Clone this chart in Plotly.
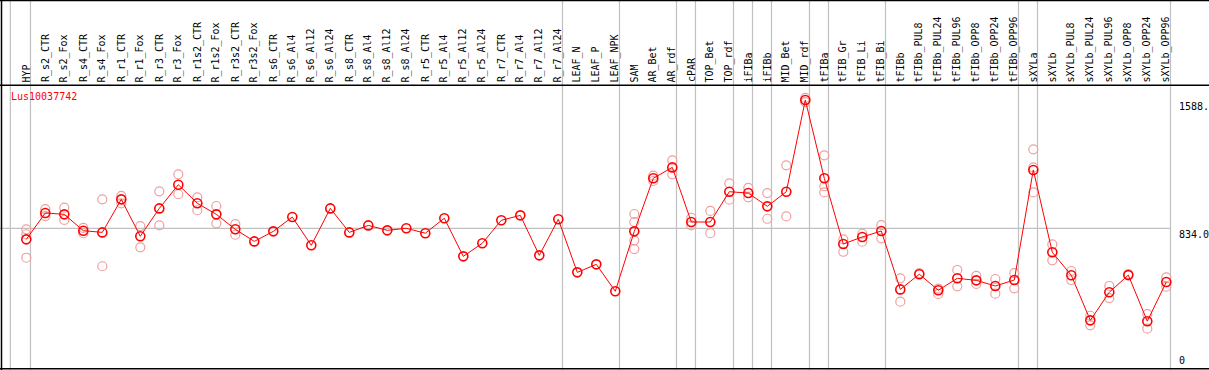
import plotly.graph_objects as go

title = "Lus10037742"

categories = [
    "HYP", "R_s2_CTR", "R_s2_Fox", "R_s4_CTR", "R_s4_Fox", "R_r1_CTR", "R_r1_Fox",
    "R_r3_CTR", "R_r3_Fox", "R_r1s2_CTR", "R_r1s2_Fox", "R_r3s2_CTR", "R_r3s2_Fox",
    "R_s6_CTR", "R_s6_Al4", "R_s6_Al12", "R_s6_Al24", "R_s8_CTR", "R_s8_Al4",
    "R_s8_Al12", "R_s8_Al24", "R_r5_CTR", "R_r5_Al4", "R_r5_Al12", "R_r5_Al24",
    "R_r7_CTR", "R_r7_Al4", "R_r7_Al12", "R_r7_Al24", "LEAF_N", "LEAF_P", "LEAF_NPK",
    "SAM", "AR_Bet", "AR_rdf", "cPAR", "TOP_Bet", "TOP_rdf", "iFIBa", "iFIBb",
    "MID_Bet", "MID_rdf", "tFIBa", "tFIB_Gr", "tFIB_Li", "tFIB_Bi", "tFIBb",
    "tFIBb_PUL8", "tFIBb_PUL24", "tFIBb_PUL96", "tFIBb_OPP8", "tFIBb_OPP24",
    "tFIBb_OPP96", "sXYLa", "sXYLb", "sXYLb_PUL8", "sXYLb_PUL24", "sXYLb_PUL96",
    "sXYLb_OPP8", "sXYLb_OPP24", "sXYLb_OPP96",
]

# number of consecutive categories in each group (separated by grey lines)
group_sizes = [1, 28, 3, 3, 1, 2, 1, 1, 2, 1, 3, 7, 1, 7]

means = [
    769, 924, 916, 820, 810, 1004, 787, 951, 1090, 981, 916, 828, 757,
    816, 900, 734, 951, 810, 851, 822, 834, 805, 893, 669, 746, 881, 910,
    675, 887, 575, 622, 464,
    816, 1128, 1192, 871, 871, 1049, 1041, 963, 1049, 1588, 1128, 742, 783, 818,
    475, 564, 470, 540, 528, 495, 530,
    1177, 693, 558, 293, 458, 559, 288, 518,
]

replicates = [
    [828, 799, 661], [947, 906], [955, 883], [836, 805], [1004, 611],
    [1024, 981], [847, 722], [1051, 851], [1151, 1034], [1016, 940],
    [965, 863], [859, 796], [], [], [], [], [], [], [], [], [], [], [], [], [],
    [], [], [], [], [], [], [],
    [918, 871, 763, 712], [1143, 1112], [1233, 1151], [896, 851], [936, 805],
    [1098, 1002], [1071, 1016], [1041, 890], [1204, 904], [1600, 1576],
    [1263, 1081, 1045], [769, 696], [802, 755], [853, 775],
    [540, 403], [570], [448, 480], [589, 493], [554, 507], [536, 450], [571, 481],
    [1298, 1192, 1045], [740, 646], [583, 530], [320, 264], [495, 424], [565],
    [330, 244], [546, 491],
]

axis_ticks = [0, 834.0, 1588.0]
axis_tick_text = ["0", "834.0", "1588."]

# ---- layout geometry (pixels) ----
W, H = 1209, 370
px_per_cat = 19.0
first_cat_px = 26.3
header_px = 85.3
y_zero_px = 370.2
y_px_per_unit = (y_zero_px - 100.0) / 1588.0

xmin = -first_cat_px / px_per_cat
xmax = xmin + W / px_per_cat
ymin = (y_zero_px - H) / y_px_per_unit
ymax = ymin + H / y_px_per_unit

def py(p):  # pixel y -> paper
    return 1 - p / H

def px(p):  # pixel x -> paper
    return p / W

red = "#ff0000"
pink = "#eea0a0"
grey = "#c0c0c0"
mono = "DejaVu Sans Mono"

idx = list(range(len(categories)))
rx, ry = [], []
for i, reps in enumerate(replicates):
    for v in reps:
        rx.append(i)
        ry.append(v)

fig = go.Figure()
fig.add_trace(go.Scatter(
    x=rx, y=ry, mode="markers",
    marker=dict(symbol="circle-open", size=9, color=pink, line=dict(width=1.2, color=pink)),
    hoverinfo="skip", showlegend=False,
))
fig.add_trace(go.Scatter(
    x=idx, y=means, mode="lines+markers",
    line=dict(color=red, width=1),
    marker=dict(symbol="circle-open", size=9, color=red, line=dict(width=1.6, color=red)),
    showlegend=False,
))

shapes = []
# group separators
boundaries = [-0.84]
pos = 0
for g in group_sizes:
    pos += g
    boundaries.append(pos - 1 + 0.22)
for b in boundaries:
    shapes.append(dict(type="line", xref="x", yref="paper", x0=b, x1=b, y0=0, y1=1,
                       line=dict(color=grey, width=1.2), layer="below"))
# horizontal reference line at middle tick
shapes.append(dict(type="line", xref="paper", yref="y", x0=0, x1=px(first_cat_px + px_per_cat * (len(categories) - 1) + 4.4),
                   y0=axis_ticks[1], y1=axis_ticks[1], line=dict(color=grey, width=1.2), layer="below"))
# frame lines
shapes.append(dict(type="line", xref="paper", yref="paper", x0=0, x1=1, y0=py(header_px), y1=py(header_px),
                   line=dict(color="black", width=1.5)))
shapes.append(dict(type="line", xref="paper", yref="paper", x0=0, x1=1, y0=py(0.5), y1=py(0.5),
                   line=dict(color="black", width=1.5)))
shapes.append(dict(type="line", xref="paper", yref="paper", x0=0, x1=1, y0=py(368.8), y1=py(368.8),
                   line=dict(color="black", width=1.5)))
shapes.append(dict(type="line", xref="paper", yref="paper", x0=px(1.5), x1=px(1.5), y0=0, y1=1,
                   line=dict(color="black", width=1.5)))

annotations = []
for i, c in enumerate(categories):
    annotations.append(dict(
        x=i, xref="x", y=py(header_px - 2), yref="paper", text=c, showarrow=False,
        textangle=-90, xanchor="center", yanchor="bottom",
        font=dict(family=mono, size=10, color="black"), borderpad=0,
    ))
annotations.append(dict(
    x=px(9.5), xref="paper", y=py(96.5), yref="paper", text=title, showarrow=False,
    xanchor="left", yanchor="middle", font=dict(family=mono, size=10, color=red), borderpad=0,
))
label_x = px(1178.0)
annotations.append(dict(x=label_x, xref="paper", y=axis_ticks[2], yref="y", text=axis_tick_text[2],
                        showarrow=False, xanchor="left", yanchor="top", borderpad=0,
                        font=dict(family=mono, size=10, color="black")))
annotations.append(dict(x=label_x, xref="paper", y=axis_ticks[1], yref="y", text=axis_tick_text[1],
                        showarrow=False, xanchor="left", yanchor="top", borderpad=0,
                        font=dict(family=mono, size=10, color="black")))
annotations.append(dict(x=label_x, xref="paper", y=py(367), yref="paper", text=axis_tick_text[0],
                        showarrow=False, xanchor="left", yanchor="bottom", borderpad=0,
                        font=dict(family=mono, size=10, color="black")))

fig.update_layout(
    width=W, height=H,
    margin=dict(l=0, r=0, t=0, b=0),
    paper_bgcolor="white", plot_bgcolor="white",
    xaxis=dict(range=[xmin, xmax], visible=False, fixedrange=True),
    yaxis=dict(range=[ymin, ymax], visible=False, fixedrange=True),
    shapes=shapes, annotations=annotations,
)

fig.write_html(
    "out.html",
    config={"displayModeBar": False},
    post_script="document.body.style.margin='0';document.body.style.padding='0';"
                "document.body.style.overflow='hidden';",
)
